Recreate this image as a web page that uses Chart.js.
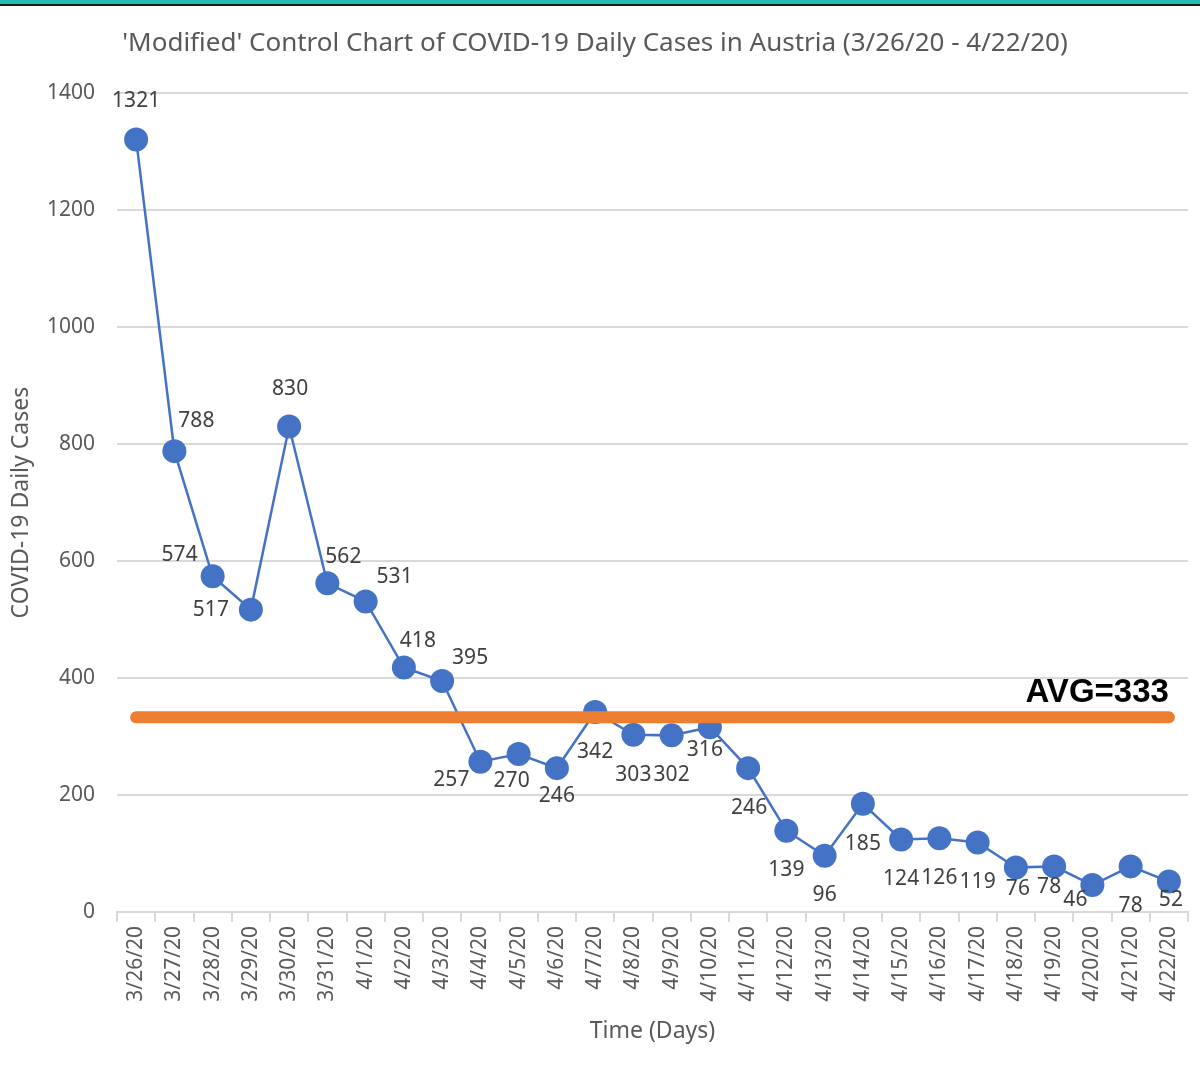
<!DOCTYPE html>
<html>
<head>
<meta charset="utf-8">
<title>Control Chart - Austria</title>
<script src="https://cdn.jsdelivr.net/npm/chart.js@4.4.1/dist/chart.umd.min.js"></script>
<style>
  body { margin: 0; background: #fff; }
  .wrap { position: relative; width: 1200px; height: 1074px; }
  .band { position: absolute; left: 0; top: 0; width: 1200px; height: 4px;
          background: #22bfb2; border-bottom: 2px solid #1c1c1c; }
</style>
</head>
<body>
<div class="wrap">
  <canvas id="myChart" width="1200" height="1074"></canvas>
  <div class="band"></div>
</div>
<script>
  const days = ['3/26/20', '3/27/20', '3/28/20', '3/29/20', '3/30/20', '3/31/20', '4/1/20',
    '4/2/20', '4/3/20', '4/4/20', '4/5/20', '4/6/20', '4/7/20', '4/8/20', '4/9/20', '4/10/20',
    '4/11/20', '4/12/20', '4/13/20', '4/14/20', '4/15/20', '4/16/20', '4/17/20', '4/18/20',
    '4/19/20', '4/20/20', '4/21/20', '4/22/20'];
  const dailyCases = [1321, 788, 574, 517, 830, 562, 531, 418, 395, 257, 270, 246, 342, 303,
    302, 316, 246, 139, 96, 185, 124, 126, 119, 76, 78, 46, 78, 52];
  const avgValue = 333;
  const yTicks = [0, 200, 400, 600, 800, 1000, 1200, 1400];

  // where each data label sits relative to its point (px)
  const labelOffset = [[0,-38],[22,-30],[-33,-21],[-40,0],[1,-38],[16,-26],[29,-24],[14,-27],
    [28,-23],[-29,18],[-7,27],[0,28],[0,40],[0,40],[0,40],[-5,23],[1,40],[0,39],[0,39],[0,40],
    [0,40],[0,40],[0,40],[2,21],[-5,21],[-17,15],[0,40],[2,18]];

  const labelPlugin = {
    id: 'pointLabels',
    afterDatasetsDraw(chart) {
      const c = chart.ctx;
      const meta = chart.getDatasetMeta(1);
      c.save();
      c.font = '21px "Noto Sans"';
      c.fillStyle = '#404040';
      c.textAlign = 'center';
      c.textBaseline = 'middle';
      meta.data.forEach((pt, i) => {
        c.fillText(dailyCases[i], pt.x + labelOffset[i][0], pt.y + labelOffset[i][1]);
      });
      // average label
      const x = chart.scales.x.getPixelForValue(days.length - 1);
      const y = chart.scales.y.getPixelForValue(avgValue);
      c.font = 'bold 33px "Liberation Sans"';
      c.fillStyle = '#000';
      c.textAlign = 'right';
      c.textBaseline = 'alphabetic';
      c.fillText('AVG=' + avgValue, x, y - 15);
      c.restore();
    }
  };

  const ctx = document.getElementById('myChart');

  new Chart(ctx, {
    type: 'line',
    data: {
      labels: days,
      datasets: [
        {
          label: 'AVG',
          data: days.map(() => avgValue),
          borderColor: '#ED7D31',
          borderWidth: 12,
          borderCapStyle: 'round',
          pointRadius: 0,
          pointHoverRadius: 0
        },
        {
          label: 'Daily Cases',
          data: dailyCases,
          borderColor: '#4472C4',
          backgroundColor: '#4472C4',
          borderWidth: 2.5,
          pointRadius: 12,
          pointBorderWidth: 0,
          pointBackgroundColor: '#4472C4',
          tension: 0
        }
      ]
    },
    options: {
      responsive: false,
      animation: false,
      layout: {
        padding: { left: 0, right: 10, top: 0, bottom: 0 }
      },
      plugins: {
        legend: { display: false },
        tooltip: { enabled: false },
        title: {
          display: true,
          text: "'Modified' Control Chart of COVID-19 Daily Cases in Austria (3/26/20 - 4/22/20)",
          color: '#595959',
          font: { family: 'Noto Sans', size: 26, weight: 'normal' },
          padding: { top: 28, bottom: 34 }
        }
      },
      scales: {
        y: {
          min: 0,
          max: 1400,
          afterFit(scale) { scale.width = 117; },
          afterBuildTicks(scale) { scale.ticks = yTicks.map(v => ({ value: v })); },
          ticks: {
            color: '#595959',
            font: { family: 'Noto Sans', size: 21 },
            padding: 22,
            callback: v => String(v)
          },
          grid: { color: '#d9d9d9', lineWidth: 2, drawTicks: false },
          border: { display: false },
          title: {
            display: true,
            text: 'COVID-19 Daily Cases',
            color: '#595959',
            font: { family: 'Noto Sans', size: 23 },
            padding: { top: 8, bottom: 0 }
          }
        },
        x: {
          offset: true,
          afterFit(scale) { scale.height = 162; },
          ticks: {
            color: '#595959',
            font: { family: 'Noto Sans', size: 21 },
            minRotation: 90,
            maxRotation: 90,
            autoSkip: false,
            padding: 4
          },
          grid: {
            offset: true,
            drawOnChartArea: false,
            drawTicks: true,
            tickLength: 10,
            color: '#d9d9d9',
            lineWidth: 2
          },
          border: { display: true, color: '#d9d9d9', width: 2 },
          title: {
            display: true,
            text: 'Time (Days)',
            color: '#595959',
            font: { family: 'Noto Sans', size: 23 },
            padding: { top: 4, bottom: 29 }
          }
        }
      }
    },
    plugins: [labelPlugin]
  });
</script>
</body>
</html>
